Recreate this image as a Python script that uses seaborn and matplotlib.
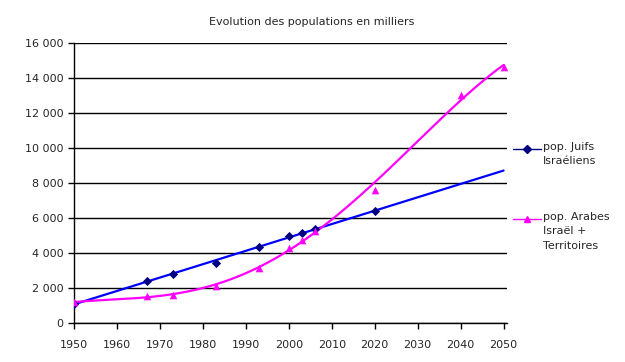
import numpy as np
import pandas as pd
import matplotlib
matplotlib.use("Agg")
import matplotlib.pyplot as plt
from matplotlib.lines import Line2D
import matplotlib.ticker as mticker
import seaborn as sns

title = "Evolution des populations en milliers"
label_juifs = "pop. Juifs\nIsraéliens"
label_arabes = "pop. Arabes\nIsraël +\nTerritoires"

years_juifs = [1950, 1967, 1973, 1983, 1993, 2000, 2003, 2006, 2020]
pop_juifs = [1100, 2380, 2820, 3450, 4340, 4970, 5140, 5390, 6380]

years_arabes = [1950, 1967, 1973, 1983, 1993, 2000, 2003, 2006, 2020, 2040, 2050]
pop_arabes = [1200, 1520, 1580, 2130, 3140, 4300, 4760, 5270, 7620, 13000, 14630]

x_ticks = list(range(1950, 2051, 10))
y_ticks = list(range(0, 16001, 2000))

sns.set_style("white")
plt.rcParams["font.family"] = ["DejaVu Sans"]

fig = plt.figure(figsize=(6.25, 3.62), dpi=100)
ax = fig.add_axes([74 / 625, 1 - 323 / 362, 433 / 625, 280 / 362])

dj = pd.DataFrame({"annee": years_juifs, "pop": pop_juifs})
da = pd.DataFrame({"annee": years_arabes, "pop": pop_arabes})

# trend lines (Excel-like regression)
xs = np.linspace(1950, 2050, 300)
cj = np.polyfit(dj["annee"] - 2000, dj["pop"], 1)
ca = np.polyfit(da["annee"] - 2000, da["pop"], 4)
tj = pd.DataFrame({"annee": xs, "pop": np.polyval(cj, xs - 2000)})
ta = pd.DataFrame({"annee": xs, "pop": np.polyval(ca, xs - 2000)})

sns.lineplot(data=tj, x="annee", y="pop", ax=ax, color="#0000FF", lw=1.6, zorder=3)
sns.lineplot(data=ta, x="annee", y="pop", ax=ax, color="#FF00FF", lw=1.6, zorder=3)

sns.scatterplot(data=dj, x="annee", y="pop", ax=ax, marker="D", color="#000080",
                s=22, edgecolor="#000080", linewidth=0, zorder=4)
sns.scatterplot(data=da, x="annee", y="pop", ax=ax, marker="^", color="#FF00FF",
                s=30, edgecolor="#FF00FF", linewidth=0, zorder=4)

ax.set_xlim(1950, 2050.8)
ax.set_ylim(0, 16000)
ax.set_xticks(x_ticks)
ax.set_yticks(y_ticks)
ax.yaxis.set_major_formatter(mticker.FuncFormatter(lambda v, p: f"{int(v):,}".replace(",", " ")))
ax.grid(axis="y", color="black", lw=1)
ax.grid(axis="x", visible=False)
for s in ["top", "right"]:
    ax.spines[s].set_visible(False)
for s in ["left", "bottom"]:
    ax.spines[s].set_color("black")
    ax.spines[s].set_linewidth(1)
ax.tick_params(axis="both", which="major", length=4, width=1, color="black",
               labelsize=8, direction="out", bottom=True, left=True)
ax.tick_params(axis="x", pad=8)
ax.set_xlabel("")
ax.set_ylabel("")

fig.text(312 / 625, 1 - 22 / 362, title, ha="center", va="center", fontsize=8)

# legend drawn at the right, first label line level with the key
W, H = 625, 362
def key(y, color, marker, ms, label):
    fig.add_artist(Line2D([513 / W, 541 / W], [1 - y / H, 1 - y / H],
                          color=color, lw=1, transform=fig.transFigure))
    fig.add_artist(Line2D([527 / W], [1 - y / H], color=color, marker=marker,
                          markersize=ms, lw=0, transform=fig.transFigure))
    fig.text(543 / W, 1 - (y - 7) / H, label, ha="left", va="top",
             fontsize=8, linespacing=1.55)

key(149, "#000080", "D", 4, label_juifs)
key(219, "#FF00FF", "^", 5, label_arabes)

fig.savefig("out.png", dpi=100)
